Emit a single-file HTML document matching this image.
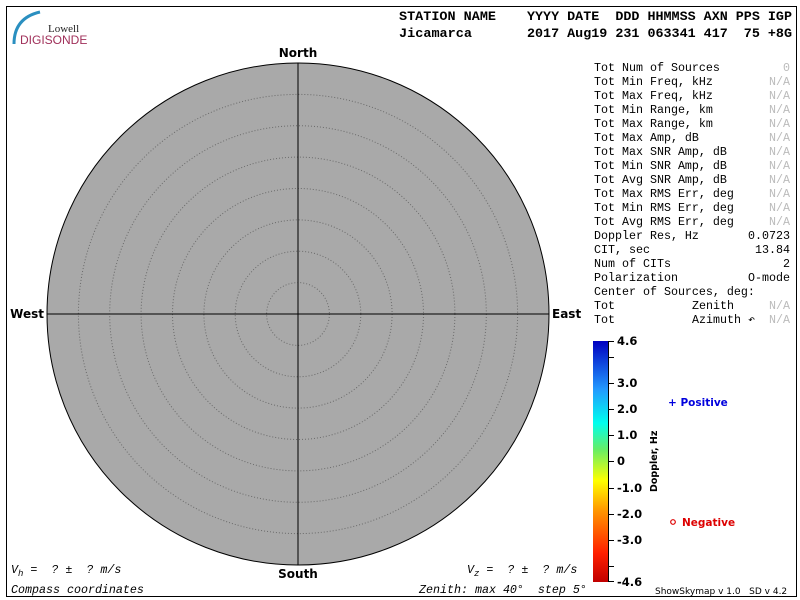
<!DOCTYPE html>
<html><head><meta charset="utf-8"><style>
html,body{margin:0;padding:0;background:#fff;}
svg{display:block;}
text{white-space:pre;}
.m{font-family:"Liberation Mono","DejaVu Sans Mono",monospace;font-size:11.67px;fill:#000;}
.g{fill:#bbb;}
.h{font-family:"Liberation Mono",monospace;font-size:13.3px;font-weight:bold;fill:#000;}
.d{font-family:"DejaVu Sans","Liberation Sans",sans-serif;font-size:12px;font-weight:bold;fill:#000;}
.c{font-family:"DejaVu Sans","Liberation Sans",sans-serif;font-size:11.5px;font-weight:bold;fill:#000;}
.i{font-family:"Liberation Mono",monospace;font-size:11.67px;font-style:italic;fill:#000;}
</style></head><body>
<svg width="800" height="600" viewBox="0 0 800 600" xmlns="http://www.w3.org/2000/svg" xml:space="preserve">
<defs>
<linearGradient id="cb" x1="0" y1="1" x2="0" y2="0">
<stop offset="0" stop-color="#c00000"/>
<stop offset="0.12" stop-color="#ff2000"/>
<stop offset="0.3" stop-color="#ff9900"/>
<stop offset="0.42" stop-color="#ffff00"/>
<stop offset="0.55" stop-color="#66ee66"/>
<stop offset="0.66" stop-color="#00ffee"/>
<stop offset="0.8" stop-color="#2299ff"/>
<stop offset="1" stop-color="#0000c0"/>
</linearGradient>
</defs>
<rect x="6.5" y="6.5" width="790" height="590" fill="none" stroke="#000" stroke-width="1"/>
<path d="M14,44 Q14,18 40,12" fill="none" stroke="#2a8fc0" stroke-width="3"/>
<text x="48" y="32" font-family="Liberation Serif,serif" font-size="11" fill="#222">Lowell</text>
<text x="20" y="44" font-family="Liberation Sans,sans-serif" font-size="12" fill="#a0305a">DIGISONDE</text>
<text class="h" x="399" y="20" textLength="97" lengthAdjust="spacingAndGlyphs">STATION NAME</text>
<text class="h" x="527" y="20" textLength="265" lengthAdjust="spacingAndGlyphs">YYYY DATE  DDD HHMMSS AXN PPS IGP</text>
<text class="h" x="399" y="37" textLength="73" lengthAdjust="spacingAndGlyphs">Jicamarca</text>
<text class="h" x="527" y="37" textLength="265" lengthAdjust="spacingAndGlyphs">2017 Aug19 231 063341 417  75 +8G</text>
<circle cx="298" cy="314" r="251" fill="#a9a9a9" stroke="#000" stroke-width="1"/>
<g fill="none" stroke="#6a6a6a" stroke-width="1" stroke-dasharray="1,2">
<circle cx="298" cy="314" r="31.4"/><circle cx="298" cy="314" r="62.8"/>
<circle cx="298" cy="314" r="94.1"/><circle cx="298" cy="314" r="125.5"/>
<circle cx="298" cy="314" r="156.9"/><circle cx="298" cy="314" r="188.3"/>
<circle cx="298" cy="314" r="219.6"/>
</g>
<line x1="298" y1="63" x2="298" y2="565" stroke="#000"/>
<line x1="47" y1="314" x2="549" y2="314" stroke="#000"/>
<text class="d" x="298" y="57" text-anchor="middle">North</text>
<text class="d" x="298" y="578" text-anchor="middle">South</text>
<text class="d" x="44" y="318" text-anchor="end">West</text>
<text class="d" x="552" y="318">East</text>
<text class="i" x="11" y="573">V<tspan font-size="9" dy="3">h</tspan><tspan dy="-3"> =  ? ±  ? m/s</tspan></text>
<text class="i" x="467" y="573">V<tspan font-size="9" dy="3">z</tspan><tspan dy="-3"> =  ? ±  ? m/s</tspan></text>
<text class="i" x="11" y="593">Compass coordinates</text>
<text class="i" x="419" y="593">Zenith: max 40°  step 5°</text>
<g class="m">
<text x="594" y="71">Tot Num of Sources</text><text class="g" x="790" y="71" text-anchor="end">0</text>
<text x="594" y="85">Tot Min Freq, kHz</text><text class="g" x="790" y="85" text-anchor="end">N/A</text>
<text x="594" y="99">Tot Max Freq, kHz</text><text class="g" x="790" y="99" text-anchor="end">N/A</text>
<text x="594" y="113">Tot Min Range, km</text><text class="g" x="790" y="113" text-anchor="end">N/A</text>
<text x="594" y="127">Tot Max Range, km</text><text class="g" x="790" y="127" text-anchor="end">N/A</text>
<text x="594" y="141">Tot Max Amp, dB</text><text class="g" x="790" y="141" text-anchor="end">N/A</text>
<text x="594" y="155">Tot Max SNR Amp, dB</text><text class="g" x="790" y="155" text-anchor="end">N/A</text>
<text x="594" y="169">Tot Min SNR Amp, dB</text><text class="g" x="790" y="169" text-anchor="end">N/A</text>
<text x="594" y="183">Tot Avg SNR Amp, dB</text><text class="g" x="790" y="183" text-anchor="end">N/A</text>
<text x="594" y="197">Tot Max RMS Err, deg</text><text class="g" x="790" y="197" text-anchor="end">N/A</text>
<text x="594" y="211">Tot Min RMS Err, deg</text><text class="g" x="790" y="211" text-anchor="end">N/A</text>
<text x="594" y="225">Tot Avg RMS Err, deg</text><text class="g" x="790" y="225" text-anchor="end">N/A</text>
<text x="594" y="239">Doppler Res, Hz</text><text x="790" y="239" text-anchor="end">0.0723</text>
<text x="594" y="253">CIT, sec</text><text x="790" y="253" text-anchor="end">13.84</text>
<text x="594" y="267">Num of CITs</text><text x="790" y="267" text-anchor="end">2</text>
<text x="594" y="281">Polarization</text><text x="790" y="281" text-anchor="end">O-mode</text>
<text x="594" y="295">Center of Sources, deg:</text>
<text x="594" y="309">Tot</text><text x="692" y="309">Zenith</text><text class="g" x="790" y="309" text-anchor="end">N/A</text>
<text x="594" y="323">Tot</text><text x="692" y="323">Azimuth ↶</text><text class="g" x="790" y="323" text-anchor="end">N/A</text>
</g>
<rect x="593" y="341" width="15" height="241" fill="url(#cb)"/>
<line x1="608.5" y1="341" x2="608.5" y2="582" stroke="#000"/>
<g stroke="#000">
<line x1="608" y1="341.5" x2="614" y2="341.5"/><line x1="608" y1="357.5" x2="614" y2="357.5"/>
<line x1="608" y1="383.5" x2="614" y2="383.5"/><line x1="608" y1="409.5" x2="614" y2="409.5"/>
<line x1="608" y1="435.5" x2="614" y2="435.5"/><line x1="608" y1="461.5" x2="614" y2="461.5"/>
<line x1="608" y1="488.5" x2="614" y2="488.5"/><line x1="608" y1="514.5" x2="614" y2="514.5"/>
<line x1="608" y1="540.5" x2="614" y2="540.5"/><line x1="608" y1="566.5" x2="614" y2="566.5"/>
<line x1="608" y1="581.5" x2="614" y2="581.5"/>
</g>
<g class="c">
<text x="617" y="345">4.6</text><text x="617" y="387">3.0</text><text x="617" y="413">2.0</text>
<text x="617" y="439">1.0</text><text x="617" y="465">0</text><text x="617" y="492">-1.0</text>
<text x="617" y="518">-2.0</text><text x="617" y="544">-3.0</text><text x="617" y="586">-4.6</text>
</g>
<text transform="translate(657,492) rotate(-90)" font-family="DejaVu Sans,sans-serif" font-size="9.5" font-weight="bold" fill="#000">Doppler, Hz</text>
<text x="668" y="406" font-family="DejaVu Sans,sans-serif" font-size="10.5" font-weight="bold" fill="#0000dd">+ Positive</text>
<circle cx="673" cy="522" r="2.3" fill="none" stroke="#dd0000" stroke-width="1.2"/>
<text x="682" y="526" font-family="DejaVu Sans,sans-serif" font-size="10.5" font-weight="bold" fill="#dd0000">Negative</text>
<text x="655" y="594" font-family="DejaVu Sans,sans-serif" font-size="9" fill="#000">ShowSkymap v 1.0   SD v 4.2</text>
</svg>
</body></html>
